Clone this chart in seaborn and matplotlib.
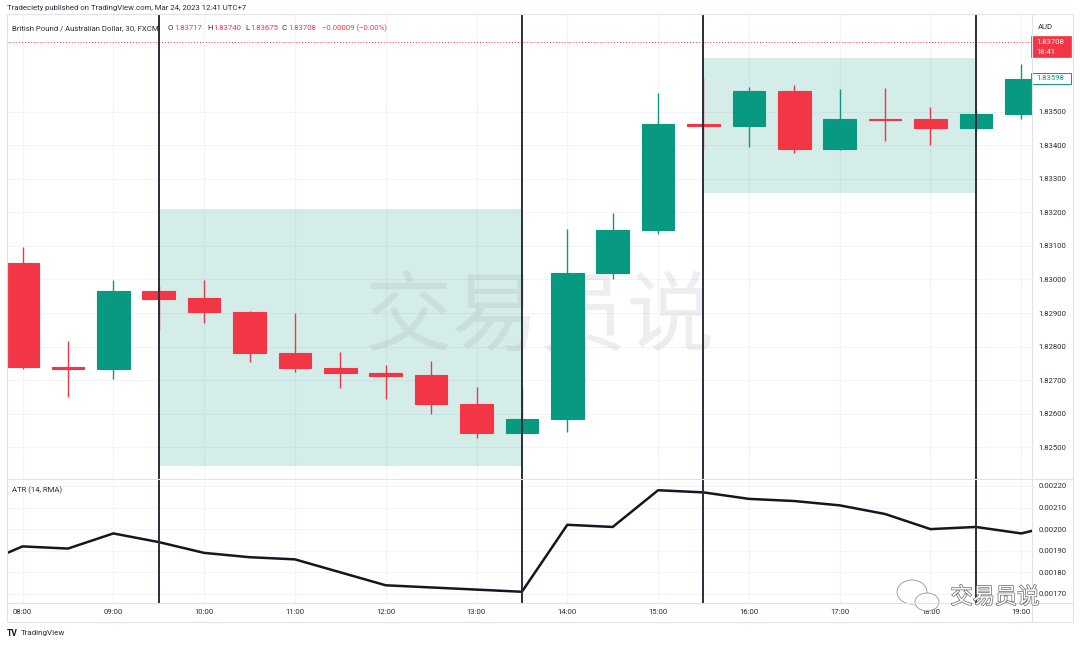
import numpy as np
import pandas as pd
import seaborn as sns
import matplotlib.pyplot as plt
from matplotlib.patches import Rectangle, Ellipse
from matplotlib.lines import Line2D
import matplotlib.patheffects as pe

# GBPAUD 30 min candles (FXCM)
times = ["08:00", "08:30", "09:00", "09:30", "10:00", "10:30", "11:00", "11:30",
         "12:00", "12:30", "13:00", "13:30", "14:00", "14:30", "15:00", "15:30",
         "16:00", "16:30", "17:00", "17:30", "18:00", "18:30", "19:00"]
opens = [1.83049, 1.82739, 1.82733, 1.82966, 1.82945, 1.82903, 1.82781, 1.82736,
         1.82721, 1.82715, 1.82628, 1.82542, 1.82584, 1.83019, 1.83148, 1.83464,
         1.83458, 1.83563, 1.83390, 1.83479, 1.83479, 1.83452, 1.83494]
highs = [1.83097, 1.82816, 1.82999, 1.82981, 1.82999, 1.82906, 1.82900, 1.82784,
         1.82745, 1.82757, 1.82679, 1.82676, 1.83151, 1.83199, 1.83557, 1.83601,
         1.83575, 1.83581, 1.83569, 1.83572, 1.83515, 1.83510, 1.83643]
lows = [1.82733, 1.82649, 1.82703, 1.82849, 1.82870, 1.82754, 1.82724, 1.82676,
        1.82643, 1.82599, 1.82527, 1.82540, 1.82545, 1.83001, 1.83136, 1.83387,
        1.83396, 1.83378, 1.83388, 1.83413, 1.83401, 1.83440, 1.83479]
closes = [1.82739, 1.82733, 1.82966, 1.82942, 1.82903, 1.82781, 1.82736, 1.82721,
          1.82712, 1.82628, 1.82542, 1.82584, 1.83019, 1.83148, 1.83464, 1.83458,
          1.83563, 1.83390, 1.83479, 1.83476, 1.83452, 1.83494, 1.83598]

# ATR (14, RMA)
atr_times = ["07:30", "08:00", "08:30", "09:00", "09:30", "10:00", "10:30", "11:00",
             "11:30", "12:00", "12:30", "13:00", "13:30", "14:00", "14:30", "15:00",
             "15:30", "16:00", "16:30", "17:00", "17:30", "18:00", "18:30", "19:00", "19:30"]
atr_vals = [0.00183, 0.00192, 0.00191, 0.00198, 0.00194, 0.00189, 0.00187, 0.00186,
            0.00180, 0.00174, 0.00173, 0.00172, 0.00171, 0.00202, 0.00201, 0.00218,
            0.00217, 0.00214, 0.00213, 0.00211, 0.00207, 0.00200, 0.00201, 0.00198, 0.00203]

price_ticks = [1.825, 1.826, 1.827, 1.828, 1.829, 1.830, 1.831, 1.832, 1.833, 1.834, 1.835]
atr_ticks = [0.0017, 0.0018, 0.0019, 0.0020, 0.0021, 0.0022]
hour_labels = ["08:00", "09:00", "10:00", "11:00", "12:00", "13:00",
               "14:00", "15:00", "16:00", "17:00", "18:00", "19:00"]

session_lines = ["09:30", "13:30", "15:30", "18:30"]
box_start = ["09:30", "15:30"]
box_end = ["13:30", "18:30"]
box_low = [1.82443, 1.83258]
box_high = [1.83210, 1.83661]

last_price = 1.83708
last_close = 1.83598


def hrs(s):
    h, m = s.split(":")
    return int(h) + int(m) / 60


df = pd.DataFrame({"t": [hrs(t) for t in times], "o": opens, "h": highs, "l": lows, "c": closes})
df["up"] = df["c"] >= df["o"]
atr = pd.DataFrame({"t": [hrs(t) for t in atr_times], "atr": atr_vals})

UP = "#089981"
DOWN = "#F23645"
INK = "#131722"
TXT = "#2a2e39"
GRID = "#f3f4f7"
BORDER = "#e0e3eb"
FS = 5.6

sns.set_style("white")
plt.rcParams['font.family'] = ['Roboto', 'Noto Sans CJK SC', 'DejaVu Sans']

W, H = 1080, 645
fig = plt.figure(figsize=(10.8, 6.45), dpi=100)


def fx(px):
    return px / W


def fy(py):
    return 1 - py / H


ax = fig.add_axes([fx(7), fy(479), fx(1032) - fx(7), fy(14) - fy(479)])
ax2 = fig.add_axes([fx(7), fy(603), fx(1032) - fx(7), fy(479) - fy(603)], sharex=ax)

# shaded session boxes
for s, e, lo, hi in zip(box_start, box_end, box_low, box_high):
    ax.add_patch(Rectangle((hrs(s), lo), hrs(e) - hrs(s), hi - lo,
                           facecolor=UP, alpha=0.17, lw=0, zorder=1))

# candles
colors = [UP if u else DOWN for u in df["up"]]
ax.vlines(df["t"], df["l"], df["h"], colors=colors, lw=1.0, zorder=2)
bottoms = np.minimum(df["o"], df["c"])
heights = np.abs(df["c"] - df["o"])
ax.bar(df["t"], heights, bottom=bottoms, width=0.36, color=colors,
       edgecolor=colors, lw=0.8, zorder=3)

# big watermark
ax.text(fx(540), fy(318), "交易员说", transform=fig.transFigure, ha="center", va="center",
        fontsize=63, color="#9598a1", alpha=0.16, family=['Noto Sans CJK SC'], zorder=1.5)

# last price line
ax.axhline(last_price, color=DOWN, ls=(0, (1, 2)), lw=0.7, zorder=2)

for s in session_lines:
    ax.axvline(hrs(s), color="#2a2e39", lw=1.4, zorder=5)
    ax2.axvline(hrs(s), color="#2a2e39", lw=1.4, zorder=5)

ax.set_ylim(1.824045, 1.837925)
ax.set_yticks(price_ticks)
ax.set_yticklabels([f"{p:.5f}" for p in price_ticks])
ax.yaxis.tick_right()
ax.tick_params(axis="y", length=0, pad=4.5, labelsize=FS, labelcolor=TXT)
ax.tick_params(axis="x", bottom=False, labelbottom=False)
ax.grid(True, color=GRID, lw=0.8)
ax.set_axisbelow(True)

# ATR panel
sns.lineplot(data=atr, x="t", y="atr", ax=ax2, color=INK, lw=1.8, zorder=4)
ax2.set_ylim(0.001658, 0.002232)
ax2.set_yticks(atr_ticks)
ax2.set_yticklabels([f"{v:.5f}" for v in atr_ticks])
ax2.yaxis.tick_right()
ax2.set_xticks([hrs(h) for h in hour_labels])
ax2.set_xticklabels(hour_labels)
ax2.tick_params(axis="both", length=0, labelsize=FS, labelcolor=TXT)
ax2.tick_params(axis="y", pad=4.5)
ax2.tick_params(axis="x", pad=4)
ax2.grid(True, color=GRID, lw=0.8)
ax2.set_axisbelow(True)
ax2.set_xlabel("")
ax2.set_ylabel("")
ax2.set_xlim(7.829, 19.118)

for a in (ax, ax2):
    for sp in a.spines.values():
        sp.set_visible(False)

# chart frame and separators
fig.add_artist(Rectangle((fx(7), fy(622)), fx(1073) - fx(7), fy(14) - fy(622),
                         transform=fig.transFigure, fill=False, edgecolor=BORDER, lw=0.8))
fig.add_artist(Line2D([fx(1032), fx(1032)], [fy(14), fy(622)], color=BORDER, lw=0.8))
fig.add_artist(Line2D([fx(7), fx(1073)], [fy(479), fy(479)], color=BORDER, lw=0.8))
fig.add_artist(Line2D([fx(7), fx(1073)], [fy(603), fy(603)], color=BORDER, lw=0.8))

# header
fig.text(fx(7), fy(8), "Tradeciety published on TradingView.com, Mar 24, 2023 12:41 UTC+7",
         fontsize=FS, color=TXT, va="center")
header = [(12, "British Pound / Australian Dollar, 30, FXCM", TXT),
          (168, "O", TXT), (174, "1.83717", DOWN),
          (207, "H", TXT), (213, "1.83740", DOWN),
          (245, "L", TXT), (250, "1.83675", DOWN),
          (282, "C", TXT), (288, "1.83708", DOWN),
          (322, "\u22120.00009 (\u22120.00%)", DOWN)]
for px, txt, col in header:
    fig.text(fx(px), fy(28), txt, fontsize=FS, color=col, va="center")

fig.text(fx(1038), fy(27), "AUD", fontsize=FS, color=TXT, va="center")
fig.text(fx(12), fy(490), "ATR (14, RMA)", fontsize=FS, color=TXT, va="center")

# price labels on the axis
fig.add_artist(Rectangle((fx(1031), fy(57)), fx(1071) - fx(1031), fy(36) - fy(57),
                         transform=fig.transFigure, facecolor=DOWN, edgecolor=DOWN, lw=0.5))
fig.text(fx(1036), fy(41.5), f"{last_price:.5f}", fontsize=FS, color="white", va="center")
fig.text(fx(1036), fy(51.5), "18:41", fontsize=FS, color="white", va="center")
fig.add_artist(Rectangle((fx(1031), fy(84)), fx(1071) - fx(1031), fy(73) - fy(84),
                         transform=fig.transFigure, facecolor="white", edgecolor=UP, lw=0.7))
fig.text(fx(1036), fy(78.5), f"{last_close:.5f}", fontsize=FS, color=UP, va="center")

# footer logo
fig.text(fx(7), fy(633), "TV", fontsize=6.2, color=INK, va="center", fontweight="bold")
fig.text(fx(21), fy(633), "TradingView", fontsize=5.8, color=TXT, va="center")

# bottom-right watermark with chat bubbles
fig.add_artist(Ellipse((fx(912), fy(592)), fx(30), 24 / H, transform=fig.transFigure,
                       facecolor="white", edgecolor="#8a8a8a", lw=0.6, alpha=0.9))
fig.add_artist(Ellipse((fx(927), fy(602)), fx(24), 18 / H, transform=fig.transFigure,
                       facecolor="white", edgecolor="#8a8a8a", lw=0.6, alpha=0.9))
fig.text(fx(995), fy(597), "交易员说", fontsize=16, color="white", ha="center", va="center",
         family=['Noto Sans CJK SC'],
         path_effects=[pe.withStroke(linewidth=1.0, foreground="#6a6a6a")])

fig.savefig("out.png", dpi=100, facecolor="white")
